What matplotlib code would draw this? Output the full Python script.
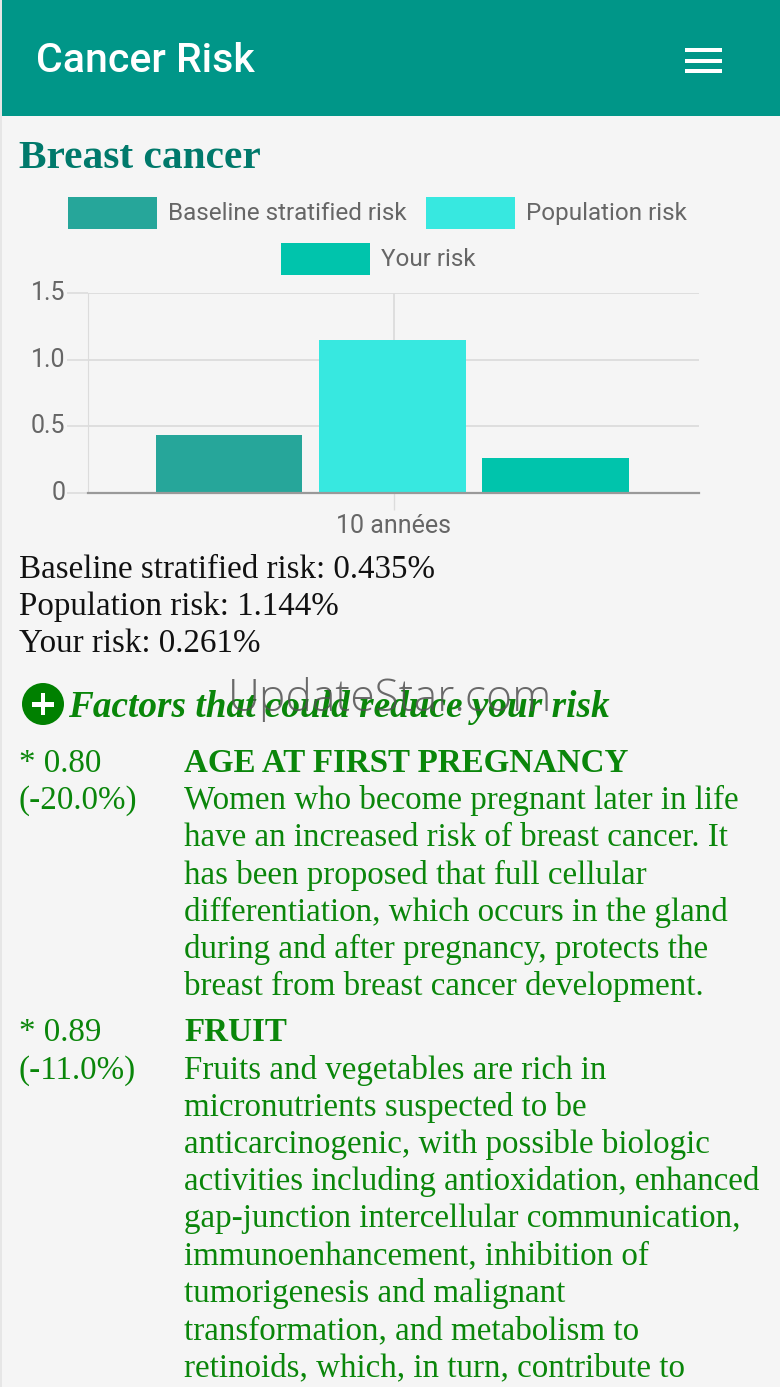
import matplotlib
matplotlib.use('Agg')
import matplotlib.pyplot as plt
from matplotlib.patches import Rectangle, Circle
from matplotlib.transforms import ScaledTranslation

W, H = 780, 1387
PX = 72 / 100  # px to pt at dpi 100

risk_names = ['Baseline stratified risk', 'Population risk', 'Your risk']
risk_values = [0.435, 1.144, 0.261]
risk_colors = ['#26A69A', '#37E8E0', '#00C4AC']
y_ticks = [0, 0.5, 1.0, 1.5]
y_tick_labels = ['0', '0.5', '1.0', '1.5']
x_label = '10 années'

factor_heading = 'Factors that could reduce your risk'
factor_1_left = ['* 0.80', '(-20.0%)']
factor_1_title = 'AGE AT FIRST PREGNANCY'
factor_1_lines = [
    'Women who become pregnant later in life',
    'have an increased risk of breast cancer. It',
    'has been proposed that full cellular',
    'differentiation, which occurs in the gland',
    'during and after pregnancy, protects the',
    'breast from breast cancer development.',
]
factor_2_left = ['* 0.89', '(-11.0%)']
factor_2_title = 'FRUIT'
factor_2_lines = [
    'Fruits and vegetables are rich in',
    'micronutrients suspected to be',
    'anticarcinogenic, with possible biologic',
    'activities including antioxidation, enhanced',
    'gap-junction intercellular communication,',
    'immunoenhancement, inhibition of',
    'tumorigenesis and malignant',
    'transformation, and metabolism to',
    'retinoids, which, in turn, contribute to',
]

BG = '#F5F5F5'
GREEN = '#0A860A'
SERIF = 'Liberation Serif'

fig = plt.figure(figsize=(W / 100, H / 100), dpi=100, facecolor=BG)

# page layer in pixel coordinates
page = fig.add_axes([0, 0, 1, 1])
page.set_xlim(0, W)
page.set_ylim(H, 0)
page.axis('off')


def label(x, y, s, size, **kw):
    kw.setdefault('va', 'baseline')
    return page.text(x, y, s, fontsize=size * PX, **kw)


page.add_patch(Rectangle((0, 0), 2, H, color='#E6E6E6', lw=0))
page.add_patch(Rectangle((2, 0), W - 2, 116, color='#009688', lw=0))
label(36, 72, 'Cancer Risk', 41, color='white', family='Roboto', weight='medium')
for y in (50, 60.5, 70.5):
    page.add_patch(Rectangle((685, y - 2), 37, 4, color='white', lw=0))

label(19, 168, 'Breast cancer', 41.4, color='#00796B', family=SERIF, weight='bold')

# legend, wrapped on two centred rows like the original
legend_pos = [(68, 197), (426, 197), (281, 243)]
for name, color, (x, y) in zip(risk_names, risk_colors, legend_pos):
    page.add_patch(Rectangle((x, y), 89, 32, color=color, lw=0))
    label(x + 100, y + 23, name, 24.3, color='#666666', family='Roboto')

# bar chart
left, right, top, bottom = 88, 699, 293, 493
ax = fig.add_axes([left / W, 1 - bottom / H, (right - left) / W, (bottom - top) / H])
ax.set_facecolor('none')
bar_w = 0.24
step = 0.267
for i, (v, c) in enumerate(zip(risk_values, risk_colors)):
    ax.bar((i - 1) * step, v, width=bar_w, color=c, zorder=3)
ax.set_xlim(-0.498, 0.502)
ax.set_ylim(0, 1.5)
ax.set_yticks(y_ticks, y_tick_labels)
ax.set_xticks([0.002], [x_label])
ax.grid(True, color='#DCDCDC', lw=1.3, zorder=0)
ax.tick_params(axis='y', length=21 * PX, width=1.2, color='#DCDCDC', pad=1,
               labelsize=25 * PX, labelcolor='#666666')
ax.tick_params(axis='x', length=17 * PX, width=1.0, color='#DCDCDC', pad=3,
               labelsize=25 * PX, labelcolor='#666666')
nudge = ScaledTranslation(0, 2.5 / 100, fig.dpi_scale_trans)
for t in ax.get_xticklabels() + ax.get_yticklabels():
    t.set_family('Roboto')
for t in ax.get_yticklabels():
    t.set_transform(t.get_transform() + nudge)
for s in ['top', 'right']:
    ax.spines[s].set_visible(False)
ax.spines['left'].set_color('#DCDCDC')
ax.spines['bottom'].set_color('#999999')
ax.spines['bottom'].set_linewidth(1.6)
ax.spines['bottom'].set_zorder(4)

# result lines
for i, (name, v) in enumerate(zip(risk_names, risk_values)):
    label(19, 578 + i * 37, f'{name}: {v:.3f}%', 33, color='#111111', family=SERIF)

# factors heading with plus icon
page.add_patch(Circle((43, 704), 21, color='#008000', lw=0))
page.add_patch(Rectangle((32, 702), 22, 4.5, color='white', lw=0))
page.add_patch(Rectangle((40.7, 693), 4.5, 22, color='white', lw=0))
label(68, 717, factor_heading, 37.2, color=GREEN, family=SERIF, weight='bold', style='italic')

# factor text blocks
line_h = 37.2
y = 772
for left_lines, title, lines in [(factor_1_left, factor_1_title, factor_1_lines),
                                 (factor_2_left, factor_2_title, factor_2_lines)]:
    for i, s in enumerate(left_lines):
        label(19, y + i * line_h, s, 33, color=GREEN, family=SERIF)
    label(184, y, title, 33, color=GREEN, family=SERIF, weight='bold')
    for i, s in enumerate(lines):
        label(184, y + (i + 1) * line_h, s, 33, color=GREEN, family=SERIF)
    y += (len(lines) + 1) * line_h + 9

# watermark on top of the heading
label(228, 711, 'UpdateStar.com', 44.4, color='#505050', alpha=0.85, family='Open Sans', weight='light', zorder=10)

fig.savefig('out.png', dpi=100, facecolor=BG)
